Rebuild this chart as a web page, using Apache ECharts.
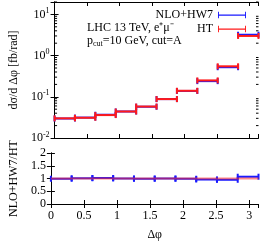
<!DOCTYPE html>
<html><head><meta charset="utf-8">
<script src="https://cdn.jsdelivr.net/npm/echarts@6/dist/echarts.min.js"></script>
<style>html,body{margin:0;padding:0;background:#fff}#c{width:260px;height:242px}</style>
</head><body><div id="c"></div>
<script>
// Bin edges in Δφ (10 bins from 0 to π)
const binLo = [0, 0.314, 0.628, 0.942, 1.257, 1.571, 1.885, 2.199, 2.513, 2.827];
const binHi = [0.314, 0.628, 0.942, 1.257, 1.571, 1.885, 2.199, 2.513, 2.827, 3.1416];
// dσ/dΔφ [fb/rad]
const htVals  = [0.030, 0.031, 0.036, 0.044, 0.058, 0.088, 0.140, 0.250, 0.550, 3.00];
const nloVals = [0.0297, 0.0313, 0.0367, 0.044, 0.0574, 0.088, 0.1386, 0.240, 0.5225, 3.21];
const logMinor = [0.02,0.03,0.04,0.05,0.06,0.07,0.08,0.09,0.2,0.3,0.4,0.5,0.6,0.7,0.8,0.9,2,3,4,5,6,7,8,9,20];
const xTicks = [0, 0.5, 1, 1.5, 2, 2.5, 3];

const BLUE = '#1a1aff', RED = '#ff1a1a';
const FONT = 'Liberation Serif';
const XMAX = 3.1416;

const topData = (v) => v.map((y, i) => [binLo[i], binHi[i], y]);
const ratioData = nloVals.map((y, i) => [binLo[i], binHi[i], y / htVals[i]]);

function errBar(color, width, cap) {
  return function (params, api) {
    const a = api.coord([api.value(0), api.value(2)]);
    const b = api.coord([api.value(1), api.value(2)]);
    const st = {stroke: color, lineWidth: width};
    return {type: 'group', children: [
      {type: 'line', shape: {x1: a[0], y1: a[1], x2: b[0], y2: b[1]}, style: st},
      {type: 'line', shape: {x1: a[0], y1: a[1] - cap, x2: a[0], y2: a[1] + cap}, style: st},
      {type: 'line', shape: {x1: b[0], y1: b[1] - cap, x2: b[0], y2: b[1] + cap}, style: st}
    ]};
  };
}
function minorTicks(params, api) {
  const v = api.value(1);
  const l = api.coord([0, v]);
  const r = api.coord([XMAX, v]);
  const st = {stroke: '#000', lineWidth: 1};
  return {type: 'group', children: [
    {type: 'line', shape: {x1: l[0], y1: l[1], x2: l[0] + 2.5, y2: l[1]}, style: st},
    {type: 'line', shape: {x1: r[0], y1: r[1], x2: r[0] - 2.5, y2: r[1]}, style: st}
  ]};
}

const axLine = {lineStyle: {color: '#000', width: 1}};
const tickIn = {inside: true, length: 4, lineStyle: {color: '#000', width: 1}};
const lblStyle = {fontFamily: FONT, fontSize: 12, color: '#000'};

const supMap = {'-2': '{a|10}{s|-2}', '-1': '{a|10}{s|-1}', '0': '{a|10}{s|0}', '1': '{a|10}{s|1}'};

const chart = echarts.init(document.getElementById('c'), null, {renderer: 'canvas'});
chart.setOption({
  animation: false,
  backgroundColor: '#fff',
  grid: [
    {left: 41, right: 1.5, top: 2, height: 136},
    {left: 41, right: 1.5, top: 153, height: 54}
  ],
  xAxis: [
    {type: 'value', gridIndex: 0, min: 0, max: XMAX, interval: 0.5, position: 'bottom',
     axisLine: axLine, axisTick: tickIn, axisLabel: {show: false}, splitLine: {show: false}},
    {type: 'value', gridIndex: 0, min: 0, max: XMAX, interval: 0.5, position: 'top',
     axisLine: axLine, axisTick: tickIn, axisLabel: {show: false}, splitLine: {show: false}},
    {type: 'value', gridIndex: 1, min: 0, max: XMAX, interval: 0.5, position: 'bottom',
     axisLine: axLine, axisTick: tickIn, splitLine: {show: false},
     axisLabel: Object.assign({margin: 6, showMaxLabel: false,
       formatter: v => (xTicks.indexOf(Math.round(v*10)/10) >= 0 ? String(Math.round(v*10)/10) : '')}, lblStyle),
     name: 'Δφ', nameLocation: 'middle', nameGap: 25, nameTextStyle: {fontFamily: FONT, fontSize: 12, color: '#000'}},
    {type: 'value', gridIndex: 1, min: 0, max: XMAX, interval: 0.5, position: 'top',
     axisLine: axLine, axisTick: tickIn, axisLabel: {show: false}, splitLine: {show: false}}
  ],
  yAxis: [
    {type: 'log', logBase: 10, gridIndex: 0, min: 0.01, max: 20, position: 'left',
     axisLine: axLine, axisTick: tickIn, splitLine: {show: false},
     axisLabel: {margin: 5, showMaxLabel: false,
       formatter: v => { const e = Math.round(Math.log10(v)); return Math.abs(Math.log10(v) - e) < 1e-6 ? supMap[String(e)] || '' : ''; },
       rich: {a: {fontFamily: FONT, fontSize: 12, color: '#000'},
              s: {fontFamily: FONT, fontSize: 8, color: '#000', padding: [0, 0, 7, 0]}}},
     name: 'dσ/d Δφ [fb/rad]', nameLocation: 'middle', nameGap: 26,
     nameTextStyle: {fontFamily: FONT, fontSize: 12, color: '#000'}},
    {type: 'log', logBase: 10, gridIndex: 0, min: 0.01, max: 20, position: 'right',
     axisLine: axLine, axisTick: tickIn, axisLabel: {show: false}, splitLine: {show: false}},
    {type: 'value', gridIndex: 1, min: 0, max: 2, interval: 0.5, position: 'left',
     axisLine: axLine, axisTick: tickIn, splitLine: {show: false},
     axisLabel: Object.assign({margin: 5, formatter: v => String(v)}, lblStyle),
     name: 'NLO+HW7/HT', nameLocation: 'middle', nameGap: 26,
     nameTextStyle: {fontFamily: FONT, fontSize: 12, color: '#000'}},
    {type: 'value', gridIndex: 1, min: 0, max: 2, interval: 0.5, position: 'right',
     axisLine: axLine, axisTick: tickIn, axisLabel: {show: false}, splitLine: {show: false}}
  ],
  legend: {
    right: 9, top: 4, orient: 'vertical', align: 'right', itemGap: 2,
    itemWidth: 28, itemHeight: 8,
    textStyle: {fontFamily: FONT, fontSize: 12, color: '#000'},
    data: [
      {name: 'NLO+HW7', icon: 'path://M0,0h2v14h-2z M0,6h60v2.5h-60z M58,0h2v14h-2z'},
      {name: 'HT', icon: 'path://M0,0h2v14h-2z M0,6h60v2.5h-60z M58,0h2v14h-2z'}
    ]
  },
  graphic: [
    {type: 'text', left: 87, top: 22, style: {text: 'LHC 13 TeV, e⁺μ⁻', fontFamily: FONT, fontSize: 12, fill: '#000'}},
    {type: 'text', left: 87, top: 35, style: {
      text: '{a|p}{b|cut}{a|=10 GeV, cut=A}', fontFamily: FONT, fontSize: 12, fill: '#000',
      rich: {a: {fontFamily: FONT, fontSize: 12, fill: '#000'}, b: {fontFamily: FONT, fontSize: 8, fill: '#000', padding: [5, 0, 0, 0]}}}}
  ],
  series: [
    {type: 'custom', name: 'ticks', xAxisIndex: 0, yAxisIndex: 0, silent: true, clip: false,
     data: logMinor.map(v => [0, v]), encode: {x: 0, y: 1}, renderItem: minorTicks},
    {type: 'custom', name: 'NLO+HW7', xAxisIndex: 0, yAxisIndex: 0, itemStyle: {color: BLUE},
     data: topData(nloVals), encode: {x: [0, 1], y: 2}, renderItem: errBar(BLUE, 2, 3)},
    {type: 'custom', name: 'HT', xAxisIndex: 0, yAxisIndex: 0, itemStyle: {color: RED},
     data: topData(htVals), encode: {x: [0, 1], y: 2}, renderItem: errBar(RED, 2, 3)},
    {type: 'custom', name: 'ratioNLO', xAxisIndex: 2, yAxisIndex: 2, itemStyle: {color: BLUE},
     data: ratioData, encode: {x: [0, 1], y: 2}, renderItem: errBar(BLUE, 2, 3)},
    {type: 'line', name: 'ratioHT', xAxisIndex: 2, yAxisIndex: 2, symbol: 'none',
     lineStyle: {color: 'rgba(255,40,40,0.55)', width: 2},
     data: [[0, 1], [XMAX, 1]]}
  ]
});
</script></body></html>
